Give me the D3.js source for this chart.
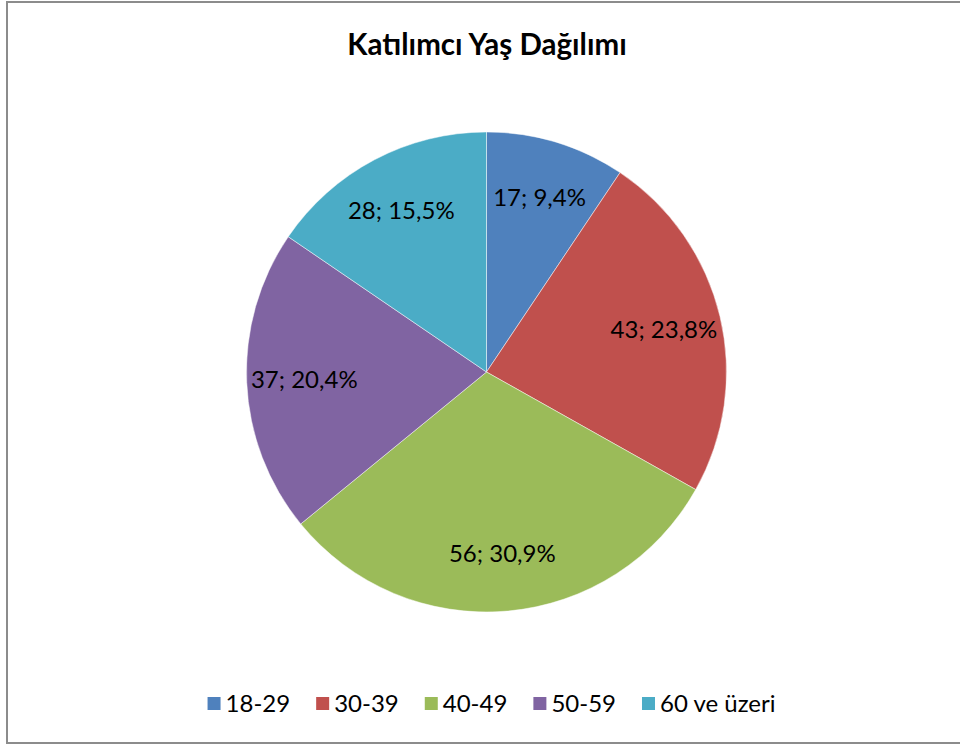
<!DOCTYPE html>
<html>
<head>
<meta charset="utf-8">
<script src="https://cdn.jsdelivr.net/npm/d3@7"></script>
<style>
  body { margin: 0; background: #fff; }
  svg { display: block; font-family: Lato, "Open Sans", sans-serif; }
</style>
</head>
<body>
<svg id="chart" width="960" height="744"></svg>
<script>
// chart data
const title = 'Katılımcı Yaş Dağılımı';
const categories = ['18-29', '30-39', '40-49', '50-59', '60 ve üzeri'];
const counts = [17, 43, 56, 37, 28];
const colors = ['#4F81BD', '#C0504D', '#9BBB59', '#8064A2', '#4BACC6'];

const svg = d3.select('#chart');
const total = d3.sum(counts);
const cx = 486.5, cy = 372, radius = 240;

// outer frame (right edge runs off the picture)
svg.append('rect')
  .attr('x', 7).attr('y', 2)
  .attr('width', 970).attr('height', 741)
  .attr('fill', 'none')
  .attr('stroke', '#8c8c8c')
  .attr('stroke-width', 2);

svg.append('text')
  .attr('x', 487).attr('y', 55)
  .attr('text-anchor', 'middle')
  .attr('font-weight', 700)
  .attr('font-size', 29.5)
  .attr('fill', '#000')
  .text(title);

const pie = d3.pie().sort(null).value(d => d);
const arcs = pie(counts);
const arc = d3.arc().innerRadius(0).outerRadius(radius);
const labelArc = d3.arc().innerRadius(radius * 0.76).outerRadius(radius * 0.76);

const g = svg.append('g').attr('transform', `translate(${cx},${cy})`);

g.selectAll('path')
  .data(arcs)
  .join('path')
  .attr('d', arc)
  .attr('fill', (d, i) => colors[i])
  .attr('stroke', 'rgba(255,255,255,0.6)')
  .attr('stroke-width', 0.8);

const fmt = v => (v * 100).toFixed(1).replace('.', ',') + '%';

g.selectAll('text.lbl')
  .data(arcs)
  .join('text')
  .attr('class', 'lbl')
  .attr('transform', d => `translate(${labelArc.centroid(d)})`)
  .attr('text-anchor', 'middle')
  .attr('dy', '0.35em')
  .attr('font-size', 24)
  .attr('fill', '#000')
  .text(d => `${d.data}; ${fmt(d.data / total)}`);

// legend, centred under the pie
const legend = svg.append('g');
const items = legend.selectAll('g')
  .data(categories)
  .join('g');

items.append('rect')
  .attr('y', 697)
  .attr('width', 13).attr('height', 13)
  .attr('fill', (d, i) => colors[i]);

items.append('text')
  .attr('x', 18)
  .attr('y', 712)
  .attr('font-size', 24)
  .attr('fill', '#000')
  .text(d => d);

let x = 0;
items.each(function () {
  const w = this.getBBox().width;
  d3.select(this).attr('transform', `translate(${x},0)`);
  x += w + 26;
});
legend.attr('transform', `translate(${(983 - (x - 26)) / 2},0)`);
</script>
</body>
</html>
